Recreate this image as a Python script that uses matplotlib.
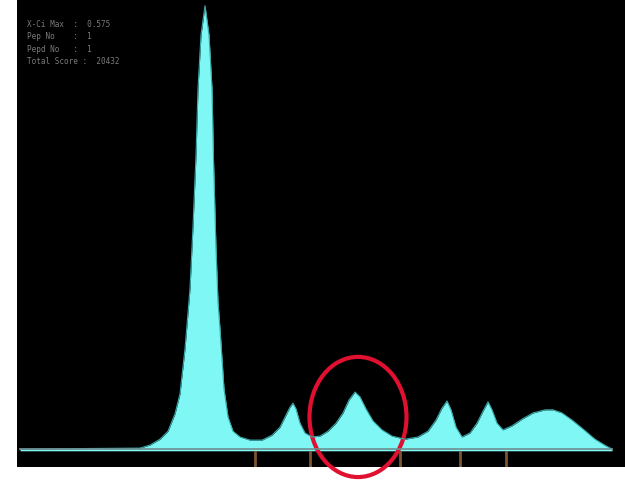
import matplotlib
matplotlib.use("Agg")
import matplotlib.pyplot as plt
from matplotlib.patches import Ellipse

# spectrum profile (channel, relative intensity %)
channel = [20, 140, 150, 160, 168, 175, 180, 185, 190, 193, 196, 198, 201,
           205, 209, 212, 213.5, 216, 218, 220, 224, 228, 233, 240, 250,
           262, 272, 280, 286, 290, 293, 296, 300, 305, 312, 320, 328, 336,
           343, 349, 355, 360, 366, 373, 382, 392, 405, 418, 428, 436, 442,
           447, 451, 456, 462, 470, 477, 483, 488, 492, 497, 503, 512, 522,
           533, 545, 553, 562, 572, 583, 595, 606, 612]
intensity = [0.0, 0.2, 0.9, 2.2, 4.0, 7.9, 12.4, 22.5, 36.0, 50.0, 66.0, 81.0,
             93.0, 99.6, 93.0, 81.0, 65.0, 45.0, 33.0, 27.0, 13.5, 7.2,
             4.0, 2.7, 2.0, 2.0, 3.1, 4.9, 7.6, 9.4, 10.3, 9.0, 5.8, 3.6, 2.7,
             2.9, 4.0, 5.8, 8.1, 11.0, 12.8, 11.7, 9.0, 6.3, 4.3, 2.9, 2.2,
             2.7, 4.0, 6.5, 9.2, 10.8, 8.8, 4.9, 2.7, 3.6, 5.8, 8.5, 10.6, 8.8,
             5.8, 4.3, 5.2, 6.7, 8.1, 8.8, 8.8, 8.1, 6.5, 4.5, 2.2, 0.7, 0.0]

# marker positions under the baseline
marker_channels = [255, 310, 400, 460, 506]

# highlighted peak (circled)
circle_center = (358, 7.2)
circle_size = (97, 27)

info_lines = ["X-Ci Max  :  0.575", "Pep No    :  1", "Pepd No   :  1",
              "Total Score :  20432"]

fig = plt.figure(figsize=(6.25, 4.81), dpi=100, facecolor="white")
ax = fig.add_axes([17 / 625, 13 / 481, 608 / 625, 468 / 481])
ax.set_facecolor("black")

ax.fill_between(channel, intensity, -0.4, color="#7ef7f5", lw=0)
ax.plot(channel, intensity, color="#3aa8a8", lw=0.8)
ax.plot([channel[0], channel[-1]], [0, 0], color="#6f8f8f", lw=1.2)

for m in marker_channels:
    ax.plot([m, m], [-0.6, -4.0], color="#7d5530", lw=2)

ax.add_patch(Ellipse(circle_center, circle_size[0], circle_size[1],
                     fill=False, edgecolor="#e01030", lw=3, clip_on=False))

for i, line in enumerate(info_lines):
    ax.text(27, 95.6 - i * 2.8, line, color="#7a7a7a", fontsize=5.5,
            family="DejaVu Sans Mono", va="center")

ax.set_xlim(17, 625)
ax.set_ylim(-4.04, 101.1)
ax.set_xticks([])
ax.set_yticks([])
for s in ax.spines.values():
    s.set_visible(False)

fig.savefig("out.png", dpi=100, facecolor="white")
